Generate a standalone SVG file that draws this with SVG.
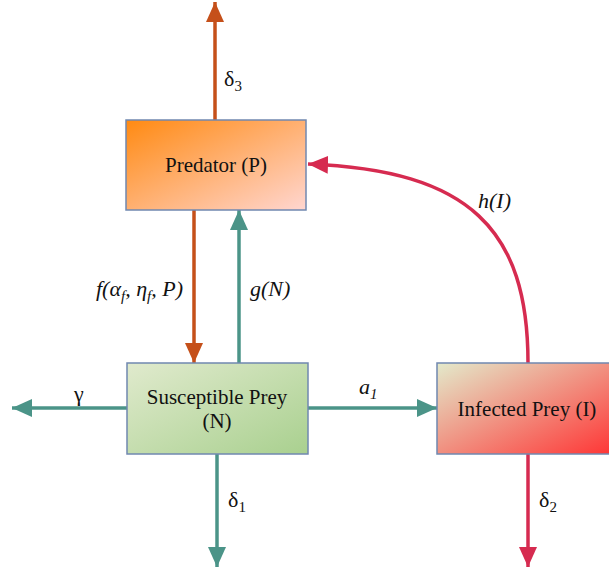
<svg xmlns="http://www.w3.org/2000/svg" width="609" height="572" viewBox="0 0 609 572" font-family="Liberation Serif, Times New Roman, serif">
<defs>
<linearGradient id="gP" x1="0" y1="0" x2="1" y2="1"><stop offset="0" stop-color="#FF8A12"/><stop offset="1" stop-color="#FFD6D0"/></linearGradient>
<linearGradient id="gN" x1="0" y1="0" x2="1" y2="1"><stop offset="0" stop-color="#E0EACD"/><stop offset="1" stop-color="#A9D08F"/></linearGradient>
<linearGradient id="gI" x1="0" y1="0" x2="1" y2="1"><stop offset="0" stop-color="#E3EACB"/><stop offset="1" stop-color="#FF3333"/></linearGradient>
<marker id="mO" markerUnits="userSpaceOnUse" markerWidth="20" markerHeight="18" refX="20" refY="9" orient="auto"><path d="M0,0 L20,9 L0,18 z" fill="#C5501A"/></marker>
<marker id="mT" markerUnits="userSpaceOnUse" markerWidth="20" markerHeight="18" refX="20" refY="9" orient="auto"><path d="M0,0 L20,9 L0,18 z" fill="#4B9488"/></marker>
<marker id="mR" markerUnits="userSpaceOnUse" markerWidth="20" markerHeight="18" refX="20" refY="9" orient="auto"><path d="M0,0 L20,9 L0,18 z" fill="#D62B50"/></marker>
</defs>
<style>
.box{stroke:#7088B0;stroke-width:1.5}
.t{font-size:21px;fill:#111}
.l{font-size:22px;fill:#111}
.i{font-style:italic}
.sub{font-size:15px}
.o{stroke:#C5501A;stroke-width:3.5;fill:none}
.tl{stroke:#4B9488;stroke-width:3.5;fill:none}
.r{stroke:#D62B50;stroke-width:3.5;fill:none}
</style>
<g id="connectors">
<path class="o" d="M215,120 V2" marker-end="url(#mO)"/>
<path class="o" d="M194,210 V363" marker-end="url(#mO)"/>
<path class="tl" d="M239,363 V210" marker-end="url(#mT)"/>
<path class="tl" d="M127,408 H12" marker-end="url(#mT)"/>
<path class="tl" d="M308,408 H437" marker-end="url(#mT)"/>
<path class="tl" d="M217,454 V567" marker-end="url(#mT)"/>
<path class="r" d="M528,454 V567" marker-end="url(#mR)"/>
<path class="r" d="M528,363 C528,230 470,170 308,164" marker-end="url(#mR)"/>
<text class="l" x="224" y="86">δ<tspan class="sub" dy="5">3</tspan></text>
<text class="l i" x="183" y="296" text-anchor="end">f(α<tspan class="sub" dy="5">f</tspan><tspan dy="-5">, η</tspan><tspan class="sub" dy="5">f</tspan><tspan dy="-5">, P)</tspan></text>
<text class="l i" x="250" y="296">g(N)</text>
<text class="l" x="74" y="401">γ</text>
<text class="l i" x="359" y="394">a<tspan class="sub" dy="5">1</tspan></text>
<text class="l" x="228" y="507">δ<tspan class="sub" dy="5">1</tspan></text>
<text class="l" x="539" y="507">δ<tspan class="sub" dy="5">2</tspan></text>
<text class="l i" x="478" y="208">h(I)</text>
</g>
<g id="predator">
<rect class="box" x="126" y="120" width="180" height="90" fill="url(#gP)"/>
<text class="t" x="216" y="172" text-anchor="middle">Predator (P)</text>
</g>
<g id="susceptible">
<rect class="box" x="127" y="363" width="181" height="91" fill="url(#gN)"/>
<text class="t" x="217" y="404" text-anchor="middle">Susceptible Prey</text>
<text class="t" x="217" y="428" text-anchor="middle">(N)</text>
</g>
<g id="infected">
<rect class="box" x="437" y="363" width="180" height="91" fill="url(#gI)"/>
<text class="t" x="527" y="416" text-anchor="middle">Infected Prey (I)</text>
</g>
</svg>
